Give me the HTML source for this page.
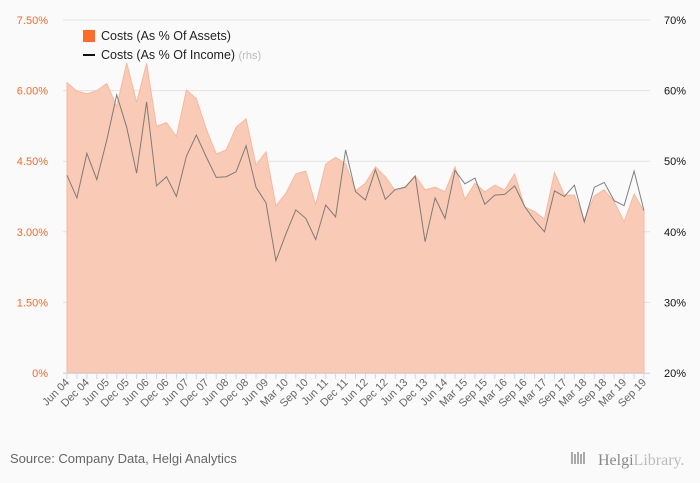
<!DOCTYPE html>
<html><head><meta charset="utf-8"><style>
body{margin:0;background:#fafafa;font-family:"Liberation Sans",sans-serif;}
#wrap{position:relative;width:700px;height:483px;background:#fafafa;overflow:hidden}
</style></head><body>
<div id="wrap">
<svg id="chart" width="700" height="483"></svg>
</div>
<script>
const assetsPct = [6.17,5.99,5.93,6.00,6.15,5.66,6.59,5.75,6.58,5.24,5.32,5.02,6.01,5.83,5.18,4.65,4.74,5.22,5.40,4.42,4.70,3.55,3.82,4.23,4.29,3.57,4.44,4.58,4.44,3.87,4.03,4.38,4.17,3.87,3.95,4.19,3.89,3.95,3.85,4.38,3.69,4.03,3.85,3.99,3.89,4.23,3.53,3.43,3.27,4.26,3.78,3.78,3.25,3.76,3.89,3.64,3.21,3.80,3.43];
const incomePct = [48.0,44.8,51.1,47.4,53.0,59.4,54.8,48.3,58.4,46.5,47.8,45.0,50.7,53.7,50.6,47.7,47.8,48.5,52.2,46.3,44.1,35.9,39.7,43.1,41.9,38.9,43.8,42.1,51.6,45.7,44.5,48.8,44.6,46.0,46.3,47.9,38.6,44.8,41.9,48.7,46.8,47.6,43.9,45.2,45.3,46.5,43.6,41.6,40.0,45.8,45.0,46.6,41.4,46.3,47.0,44.4,43.7,48.6,43.0];
const xLabels = ["Jun 04","Dec 04","Jun 05","Dec 05","Jun 06","Dec 06","Jun 07","Dec 07","Jun 08","Dec 08","Jun 09","Mar 10","Sep 10","Jun 11","Dec 11","Jun 12","Dec 12","Jun 13","Dec 13","Jun 14","Mar 15","Sep 15","Mar 16","Sep 16","Mar 17","Sep 17","Mar 18","Sep 18","Mar 19","Sep 19"];
const leftTicks = [0,1.5,3,4.5,6,7.5];
const leftTickLabels = ["0%","1.50%","3.00%","4.50%","6.00%","7.50%"];
const rightTicks = [20,30,40,50,60,70];
const rightTickLabels = ["20%","30%","40%","50%","60%","70%"];

const NS="http://www.w3.org/2000/svg";
const svg=document.getElementById('chart');
const X0=67,X1=644,YT=20,YB=373;
const n=assetsPct.length;
function xs(i){return X0+(X1-X0)*i/(n-1);}
function yl(v){return YB-(v/7.5)*(YB-YT);}
function yr(v){return YB-((v-20)/50)*(YB-YT);}
function mk(tag,attrs){const e=document.createElementNS(NS,tag);for(const k in attrs)e.setAttribute(k,attrs[k]);svg.appendChild(e);return e;}

// gridlines and ticks
leftTicks.forEach((v,i)=>{
  const g=mk('line',{x1:63,x2:650,y1:yl(v),y2:yl(v),stroke:'#e2e2e2','stroke-width':1});
  
  
  const t=mk('text',{x:48,y:yl(v)+4,'text-anchor':'end','font-size':11,fill:'#f26b2a','font-family':'Liberation Sans, sans-serif'});
  t.textContent=leftTickLabels[i];
  
  
});
rightTicks.forEach((v,i)=>{
  const t=mk('text',{x:686,y:yr(v)+4,'text-anchor':'end','font-size':11,fill:'#111','font-family':'Liberation Sans, sans-serif'});
  t.textContent=rightTickLabels[i];
  
  
});

// area
let d='M'+xs(0)+','+YB;
assetsPct.forEach((v,i)=>{d+=' L'+xs(i).toFixed(1)+','+yl(v).toFixed(1);});
d+=' L'+xs(n-1)+','+YB+' Z';
const area=mk('path',{d:d,fill:'#f9cbb7',stroke:'#f8b89c','stroke-width':1});



// line
let ld='';
incomePct.forEach((v,i)=>{ld+=(i?' L':'M')+xs(i).toFixed(1)+','+yr(v).toFixed(1);});
const line=mk('path',{d:ld,fill:'none',stroke:'#6b6b6b','stroke-width':1,'stroke-opacity':0.85});



// x axis
const ax=mk('line',{x1:63,x2:650,y1:YB+0.5,y2:YB+0.5,stroke:'#d0d8e8','stroke-width':1});


for(let i=0;i<n;i++){
  const tk=mk('line',{x1:xs(i),x2:xs(i),y1:YB,y2:YB+6,stroke:'#d0d8e8','stroke-width':1});
  
  
}
xLabels.forEach((s,i)=>{
  const x=X0+(X1-X0)*i/(xLabels.length-1);
  const t=mk('text',{x:x+3,y:383,'text-anchor':'end','font-size':11,fill:'#666','font-family':'Liberation Sans, sans-serif',transform:'rotate(-45 '+(x+3)+' 383)'});
  t.textContent=s;
  
  
});

// legend
const ls=mk('rect',{x:83,y:30,width:12,height:12,fill:'#ff6b2b'});


const lt=mk('text',{x:101,y:40,'font-size':12.5,fill:'#222','font-family':'Liberation Sans, sans-serif'});
lt.textContent='Costs (As % Of Assets)';


const ll=mk('line',{x1:83,x2:95,y1:55,y2:55,stroke:'#111','stroke-width':2});


const lt2=mk('text',{x:101,y:59,'font-size':12.5,fill:'#222','font-family':'Liberation Sans, sans-serif'});
lt2.innerHTML='Costs (As % Of Income) <tspan fill="#bbb" font-size="11">(rhs)</tspan>';



// footer
const src=mk('text',{x:10,y:463,'font-size':13,fill:'#666','font-family':'Liberation Sans, sans-serif'});
src.textContent='Source: Company Data, Helgi Analytics';


const logoIcon=mk('g',{fill:'#aaa'});


[0,3,6,9,12].forEach((o,i)=>{const r=document.createElementNS(NS,'rect');r.setAttribute('x',571+o);r.setAttribute('y',452+(i%2)*2);r.setAttribute('width',2);r.setAttribute('height',12-(i%2)*2);logoIcon.appendChild(r);});
const logo=mk('text',{x:598,y:465,'font-size':16,fill:'#999','font-family':'Liberation Serif, serif'});
logo.innerHTML='<tspan fill="#888">Helgi</tspan><tspan fill="#bbb">Library.</tspan>';


</script>
</body></html>
